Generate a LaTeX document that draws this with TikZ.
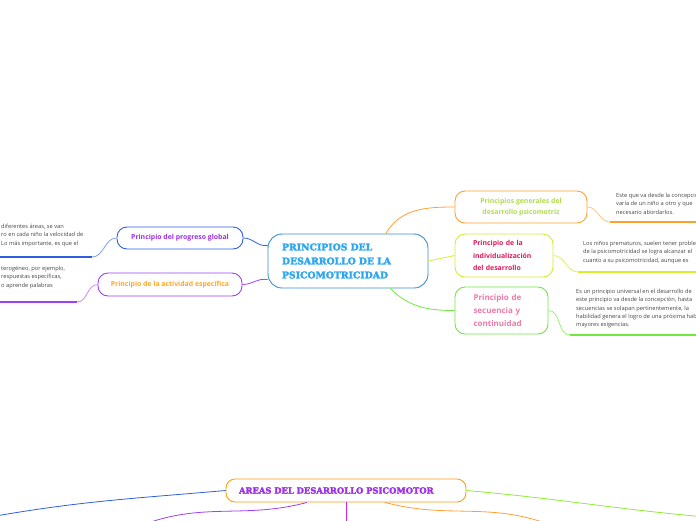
\documentclass[tikz,border=0pt]{standalone}
\usepackage{fontspec}
\setmainfont{Open Sans}
\newfontfamily\slabfont{DejaVu Serif}[BoldFeatures={FakeBold=2.6}]
\usetikzlibrary{positioning,calc}
\definecolor{mainblue}{HTML}{3B8ED0}
\definecolor{maintext}{HTML}{2EA6EE}
\definecolor{globblue}{HTML}{2F5FE0}
\definecolor{actpurple}{HTML}{A040F0}
\definecolor{txtpurple}{HTML}{9B30E8}
\definecolor{txtorange}{HTML}{FFA820}
\definecolor{genorange}{HTML}{FFA030}
\definecolor{genlime}{HTML}{B0DC50}
\definecolor{indyellow}{HTML}{D8EC30}
\definecolor{indred}{HTML}{E01A5A}
\definecolor{secgreen}{HTML}{70E840}
\definecolor{secpink}{HTML}{F07AAA}
\definecolor{areaorange}{HTML}{FFA010}
\definecolor{areamagenta}{HTML}{E020E0}
\tikzset{
  idea/.style   ={rectangle, rounded corners=10pt, draw, line width=0.9pt, fill=white,
                  align=center, font=\fontsize{6.9}{9}\selectfont\bfseries, inner sep=2pt},
  note/.style   ={anchor=north west, align=left, inner sep=0pt, text=black!72,
                  font=\fontsize{5.7}{8.3}\selectfont},
  link/.style   ={line width=0.8pt},
  under/.style  ={line width=1.4pt},
  slab/.style   ={font=\slabfont\bfseries\fontsize{9.3}{14}\selectfont},
}
\begin{document}
\begin{tikzpicture}[x=1pt, y=-1pt]
  \useasboundingbox (0,0) rectangle (696,520);
  \clip (0,0) rectangle (696,520);
  % tema central
  \node[idea, draw=mainblue, rounded corners=14pt, minimum width=160, minimum height=54,
        text width=132, align=left, slab, text=maintext] (main) at (348,261)
        {PRINCIPIOS DEL\\DESARROLLO DE LA\\PSICOMOTRICIDAD};
  % ramas izquierda
  \node[idea, draw=globblue, text=txtpurple, minimum width=126, minimum height=22] (glob) at (180,238)
        {Principio del progreso global};
  \node[idea, draw=actpurple, text=txtorange, minimum width=144, minimum height=23] (act) at (170,284.5)
        {Principio de la actividad específica};
  % ramas derecha
  \node[idea, draw=genorange, text=genlime, minimum width=132, minimum height=32,
        font=\fontsize{6.9}{10.5}\selectfont\bfseries] (gen) at (521,207)
        {Principios generales del\\desarrollo psicomotriz};
  \node[idea, draw=indyellow, text=indred, minimum width=98, minimum height=43, text width=62,
        align=left, font=\fontsize{6.9}{12.5}\selectfont\bfseries] (ind) at (504,255.5)
        {Principio de la\\individualización\\del desarrollo};
  \node[idea, draw=secgreen, text=secpink, minimum width=93, minimum height=47, text width=56,
        align=left, font=\fontsize{8}{13}\selectfont\bfseries] (sec) at (501.5,310.5)
        {Principio de\\secuencia y\\continuidad};
  % notas
  \node[note] (nglob) at (1,224)
        {diferentes áreas, se van\\ro en cada niño la velocidad de\\Lo más importante, es que el};
  \node[note] (nact) at (1,266)
        {terogéneo, por ejemplo,\\respuestas específicas,\\o aprende palabras};
  \node[note] (ngen) at (616,193)
        {Este que va desde la concepción\\varía de un niño a otro y que\\necesario abordarlos.};
  \node[note] (nind) at (583,241)
        {Los niños prematuros, suelen tener problemas\\de la psicomotricidad se logra alcanzar el\\cuanto a su psicomotricidad, aunque es};
  \node[note] (nsec) at (576,289)
        {Es un principio universal en el desarrollo de\\este principio va desde la concepción, hasta\\secuencias se solapan pertinentemente, la\\habilidad genera el logro de una próxima habilidad\\mayores exigencias.};
  % segundo tema
  \node[idea, draw=areaorange, rounded corners=9pt, minimum width=240, minimum height=23,
        text width=214, align=left, text=txtpurple,
        font=\slabfont\bfseries\fontsize{8.4}{9}\selectfont] (area) at (346,490.5)
        {AREAS DEL DESARROLLO PSICOMOTOR};
  % subrayados
  \coordinate (uglob) at (92,257);
  \coordinate (uact)  at (77,302);
  \coordinate (ugen)  at (610,222);
  \coordinate (uind)  at (578,272);
  \coordinate (usec)  at (570,335);
  \coordinate (ablue) at (-10,517);
  \coordinate (apurp) at (145,524);
  \coordinate (amag)  at (346,524);
  \coordinate (aora)  at (548,524);
  \coordinate (agrn)  at (706,517);
  % conectores
  \draw[link, globblue]  (main.169) to[out=190, in=0] (glob.east);
  \draw[link, actpurple] (main.193) to[out=170, in=0] (act.east);
  \draw[link, genorange] (main.36)  to[out=60, in=180] (gen.west);
  \draw[link, indyellow] (main.east) -- (ind.west);
  \draw[link, secgreen]  (main.-33) to[out=-45, in=180] (sec.west);
  \draw[link, globblue!60]  (glob.west) to[out=180, in=0] (uglob);
  \draw[under, globblue]    (uglob) -- (uglob -| 0,0);
  \draw[link, actpurple!60] (act.west) to[out=180, in=0] (uact);
  \draw[under, actpurple]   (uact) -- (uact -| 0,0);
  \draw[link, genorange!60] (gen.east) to[out=0, in=180] (ugen);
  \draw[under, genorange]   (ugen) -- (ugen -| 696,0);
  \draw[link, indyellow!80] (ind.east) to[out=0, in=180] (uind);
  \draw[under, indyellow]   (uind) -- (uind -| 696,0);
  \draw[link, secgreen!70]  (sec.east) to[out=0, in=180] (usec);
  \draw[under, secgreen]    (usec) -- (usec -| 696,0);
  \draw[link, globblue]     (area.west) to[out=185, in=10] (ablue);
  \draw[link, actpurple]    (area.197) to[out=195, in=20] (apurp);
  \draw[link, areamagenta]  (area.south) -- (amag);
  \draw[link, genorange]    (area.-17) to[out=-15, in=160] (aora);
  \draw[link, secgreen!80!yellow] (area.east) to[out=-5, in=175] (agrn);
\end{tikzpicture}
\end{document}
